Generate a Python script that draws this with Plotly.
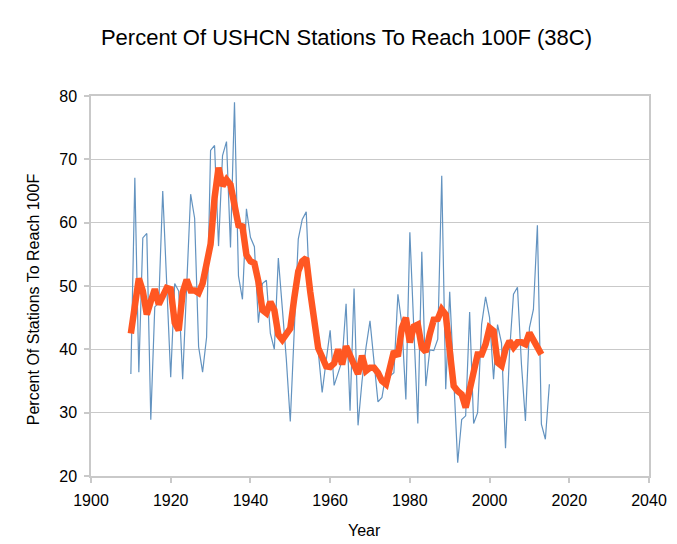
import plotly.graph_objects as go

# yearly share of stations reaching 100F (thin blue line)
years = list(range(1910, 2016))
yearly_pct = [
    36.1, 67.1, 36.4, 57.6, 58.3, 28.9, 46.7, 47.3, 65.0, 50.0,
    35.6, 50.4, 49.2, 35.3, 49.0, 64.5, 60.7, 40.4, 36.4, 41.9,
    71.4, 72.2, 56.3, 70.6, 72.8, 56.1, 79.0, 51.6, 47.9, 62.2,
    57.7, 56.2, 44.2, 50.4, 50.9, 42.5, 40.0, 54.4, 46.5, 38.5,
    28.6, 43.0, 57.4, 60.5, 61.7, 46.9, 46.2, 39.8, 33.2, 38.2,
    43.0, 34.3, 36.3, 38.2, 47.2, 30.3, 49.6, 28.0, 35.0, 40.3,
    44.5, 37.6, 31.7, 32.4, 36.2, 35.8, 36.3, 48.7, 43.9, 32.1,
    58.5, 43.2, 28.3, 55.4, 34.2, 39.9, 39.8, 41.6, 67.4, 33.7,
    49.1, 35.5, 22.1, 28.9, 29.5, 45.9, 28.3, 30.0, 43.9, 48.3,
    45.0, 35.3, 43.9, 41.0, 24.4, 39.5, 48.7, 49.8, 37.6, 28.7,
    43.4, 46.3, 59.6, 28.2, 25.8, 34.5,
]

# smoothed series (thick orange line)
smooth_years = list(range(1910, 2014))
smooth_pct = [
    42.5, 46.8, 51.2, 49.2, 45.5, 47.6, 49.5, 47.1, 48.7, 49.7,
    49.5, 44.2, 43.0, 49.0, 51.0, 49.3, 49.3, 48.9, 50.4, 53.3,
    56.6, 63.9, 68.7, 65.8, 66.8, 66.0, 62.0, 59.6, 59.4, 54.9,
    53.9, 53.6, 50.7, 46.2, 45.7, 47.5, 46.2, 42.3, 41.5, 42.3,
    43.3, 48.1, 52.3, 53.9, 54.4, 49.1, 43.8, 40.2, 38.8, 37.3,
    37.2, 37.8, 40.0, 37.6, 40.5, 39.0, 37.4, 36.1, 39.0, 36.6,
    37.1, 37.1, 36.3, 35.0, 34.5, 37.6, 39.7, 38.9, 43.4, 45.0,
    41.1, 43.6, 43.9, 40.3, 39.6, 42.4, 44.7, 44.8, 46.3, 45.5,
    39.7, 34.2, 33.4, 32.9, 30.8, 33.7, 37.4, 39.2, 39.2, 40.8,
    43.4, 42.9, 37.9, 37.4, 40.0, 41.3, 40.3, 41.1, 41.1, 40.8,
    42.6, 41.3, 40.5, 39.2,
]

FONT = "Liberation Sans, Arial, sans-serif"
GRID = "#c9c9c9"

fig = go.Figure()

fig.add_trace(go.Scatter(
    x=years, y=yearly_pct, mode="lines",
    line=dict(color="#6393c0", width=1.2),
    showlegend=False,
))

fig.add_trace(go.Scatter(
    x=smooth_years, y=smooth_pct, mode="lines",
    line=dict(color="#ff5722", width=6.5),
    showlegend=False,
))

fig.update_layout(
    width=677, height=544,
    margin=dict(l=83, r=36, t=88, b=76),
    paper_bgcolor="white", plot_bgcolor="white",
    font=dict(family=FONT, color="black", size=16),
    title=dict(
        text="Percent Of USHCN Stations To Reach 100F (38C)",
        font=dict(size=22, family=FONT),
        x=0.5, xref="container", xanchor="center",
        y=1 - 29 / 544, yref="container", yanchor="middle",
    ),
)

fig.update_xaxes(
    range=[1900, 2040], dtick=20, tick0=1900,
    showgrid=False, zeroline=False,
    showline=True, linecolor=GRID, linewidth=1.5, mirror=True,
    ticks="outside", ticklen=5, tickcolor=GRID, tickwidth=1.5,
    tickfont=dict(size=16), ticklabelstandoff=4,
)
fig.update_yaxes(
    range=[20, 80], dtick=10, tick0=20,
    showgrid=True, gridcolor=GRID, gridwidth=1, zeroline=False,
    showline=True, linecolor=GRID, linewidth=1.5, mirror=True,
    ticks="outside", ticklen=5, tickcolor=GRID, tickwidth=1.5,
    tickfont=dict(size=16), ticklabelstandoff=4,
)

# axis titles placed as annotations to match the original spacing
fig.add_annotation(
    text="Year", xref="paper", yref="paper", x=0.49, y=-0.144,
    showarrow=False, font=dict(size=16), xanchor="center", yanchor="middle",
)
fig.add_annotation(
    text="Percent Of Stations To Reach 100F", xref="paper", yref="paper",
    x=-0.103, y=0.464, textangle=-90, showarrow=False,
    font=dict(size=16), xanchor="center", yanchor="middle",
)

fig.write_html("out.html")
